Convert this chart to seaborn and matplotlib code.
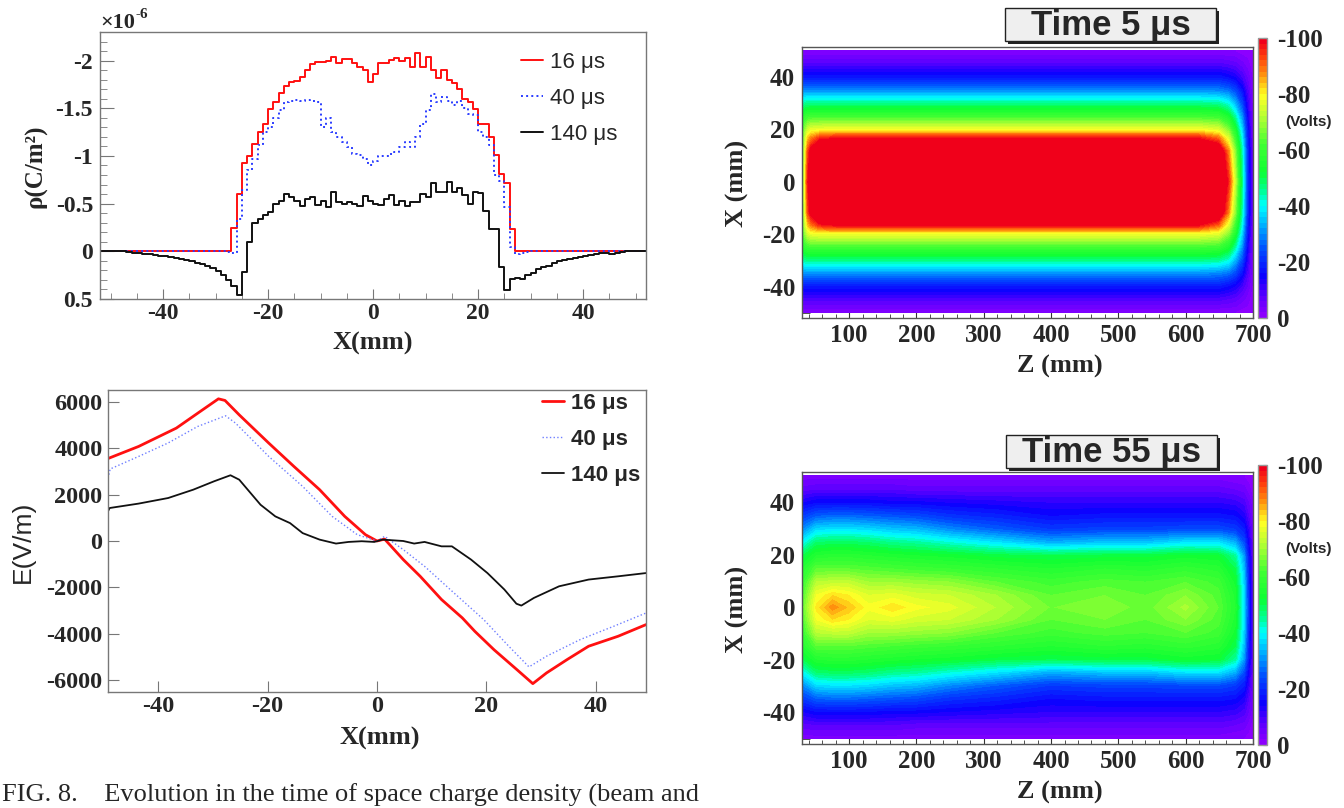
import numpy as np
import matplotlib
matplotlib.use("Agg")
import matplotlib.pyplot as plt
import seaborn as sns
from matplotlib.colors import LinearSegmentedColormap, Normalize
from matplotlib.cm import ScalarMappable
from matplotlib.ticker import MultipleLocator, FormatStrFormatter
from matplotlib.patches import Rectangle

W, H = 1344, 808
SERIF = ["Liberation Serif", "DejaVu Serif"]
SANS = ["Liberation Sans", "DejaVu Sans"]

# =========================
# DATA
# =========================
# space charge density, 1 mm bins from -52 to 52 mm, in units of 1e-6 C/m^2
rho_edges = np.arange(-52, 53)
rho_16us = [0.0] * 25 + [
    -0.24, -0.60, -0.93, -1.00, -1.13, -1.25, -1.34, -1.49, -1.57, -1.66,
    -1.73, -1.78, -1.79, -1.83, -1.90, -1.96, -1.99, -1.99, -2.00, -2.04,
    -1.97, -2.02, -2.02, -1.97, -1.93, -1.90, -1.78,
    -1.86, -1.97, -1.98, -2.01, -2.03, -2.00, -2.03, -1.93, -2.08, -1.93,
    -2.04, -1.90, -1.82, -1.90, -1.80, -1.76, -1.70, -1.60, -1.57, -1.49,
    -1.33, -1.34, -1.20, -1.01, -0.81, -0.72, -0.23] + [0.0] * 25
rho_40us = [0.0] * 24 + [0.01, 0.02] + [
    -0.34, -0.64, -0.85, -0.97, -1.11, -1.25, -1.30, -1.40, -1.48,
    -1.57, -1.58, -1.59, -1.58, -1.59, -1.58, -1.57,
    -1.30, -1.40, -1.25, -1.20, -1.15, -1.09, -1.02, -1.01, -0.97, -0.90,
    -0.95, -1.00, -1.00, -1.02, -1.04, -1.09, -1.15, -1.09, -1.20, -1.33,
    -1.48, -1.65, -1.57, -1.62, -1.58, -1.53, -1.58, -1.50, -1.44, -1.43,
    -1.25, -1.20, -1.11, -0.80, -0.74, -0.47, -0.05] + [0.03, 0.02, 0.01] + [0.0] * 22
rho_140us = [0.0] * 5 + [
    0.01, 0.02, 0.02, 0.03, 0.03, 0.04, 0.05, 0.05, 0.06, 0.07, 0.08, 0.09,
    0.10, 0.12, 0.13, 0.15, 0.18, 0.21, 0.25, 0.30, 0.36, 0.46, 0.22] + [
    -0.10, -0.30, -0.34, -0.38, -0.41, -0.50, -0.53, -0.60, -0.57, -0.53,
    -0.48, -0.55, -0.57, -0.49, -0.53, -0.47, -0.62, -0.52, -0.50, -0.52,
    -0.50, -0.48, -0.58, -0.53, -0.50, -0.49, -0.55, -0.59, -0.49, -0.53,
    -0.48, -0.52, -0.52, -0.60, -0.57, -0.72, -0.62, -0.62, -0.73, -0.62,
    -0.66, -0.59, -0.50, -0.62, -0.61, -0.42, -0.23, -0.23, 0.16, 0.41,
    0.29, 0.28, 0.29, 0.25, 0.23, 0.19, 0.16, 0.15, 0.12, 0.10,
    0.09, 0.08, 0.07, 0.06, 0.05, 0.04, 0.03, 0.02, 0.02, 0.03,
    0.02, 0.01, 0.0, 0.0, 0.0, 0.0]

# electric field E(V/m) vs X(mm)
e_x_16 = [-49.2, -43.6, -36.7, -32.8, -29.0, -27.8, -25.2, -19.8, -15.2, -10.5, -5.9, -2.1,
          0.0, 1.4, 4.8, 7.9, 11.8, 15.6, 17.9, 21.4, 25.6, 28.5, 31.0, 34.8, 38.7, 44.1, 49.2]
e_16 = [3550, 4070, 4860, 5500, 6120, 6050, 5430, 4215, 3210, 2210, 1060, 270,
        0, 80, -800, -1520, -2520, -3310, -3890, -4680, -5540, -6140, -5680, -5100, -4530, -4100, -3600]
e_x_40 = [-49.2, -48.8, -43.6, -38.2, -32.8, -27.7, -25.9, -19.8, -13.6, -8.2, -3.6, 0.0,
          1.4, 4.8, 8.7, 14.1, 19.5, 24.1, 27.8, 31.0, 37.2, 43.3, 49.2]
e_40 = [2700, 3100, 3640, 4220, 4930, 5390, 5080, 3640, 2350, 1060, 270, 0,
        200, -370, -1090, -2240, -3380, -4530, -5420, -4960, -4240, -3670, -3100]
e_x_140 = [-49.2, -48.9, -43.6, -38.2, -33.6, -29.8, -26.8, -25.2, -21.3, -18.6, -15.9, -13.6,
           -10.5, -7.5, -5.2, -2.8, -0.5, 1.0, 4.8, 6.8, 8.7, 11.8, 13.7, 17.2, 20.2, 23.3,
           25.5, 26.4, 28.7, 33.3, 38.7, 44.1, 49.2]
e_140 = [1280, 1420, 1610, 1850, 2210, 2570, 2830, 2640, 1560, 1060, 770, 340,
         60, -110, -40, -10, -40, 60, 0, -110, -40, -230, -230, -800, -1380, -2090,
         -2700, -2780, -2450, -1950, -1660, -1520, -1380]

# potential maps (Volts): one list of X values per Z node
x_nodes_5 = [-50, -45, -40, -35, -30, -25, -20, -17, -12, 0, 12, 17, 20, 25, 30, 35, 40, 45, 50]
z_nodes_5 = [30, 33, 37, 42, 55, 80, 400, 620, 650, 665, 675, 685, 693, 700]
pot_5us = [
    [-2, -9, -17, -30, -44, -55, -62, -64, -66, -67, -66, -64, -62, -55, -44, -30, -17, -9, -2],
    [-2, -9, -18, -31, -46, -59, -69, -73, -77, -80, -77, -73, -69, -59, -46, -31, -18, -9, -2],
    [-2, -9, -18, -31, -47, -61, -75, -83, -92, -97, -92, -83, -75, -61, -47, -31, -18, -9, -2],
    [-2, -9, -18, -31, -47, -62, -78, -88, -102, -112, -102, -88, -78, -62, -47, -31, -18, -9, -2],
    [-2, -9, -18, -31, -47, -62, -79, -95, -120, -128, -120, -95, -79, -62, -47, -31, -18, -9, -2],
    [-2, -9, -18, -31, -47, -62, -79, -98, -125, -135, -125, -98, -80, -62, -47, -31, -18, -9, -2],
    [-2, -9, -18, -31, -47, -62, -79, -98, -125, -135, -125, -98, -80, -62, -47, -31, -18, -9, -2],
    [-2, -9, -18, -31, -47, -62, -79, -98, -125, -135, -125, -98, -80, -62, -47, -31, -18, -9, -2],
    [-2, -9, -18, -30, -46, -61, -77, -90, -110, -120, -110, -90, -77, -61, -46, -30, -18, -9, -2],
    [-2, -8, -16, -28, -42, -55, -68, -76, -88, -96, -88, -76, -68, -55, -42, -28, -16, -8, -2],
    [-2, -7, -14, -24, -34, -45, -55, -60, -68, -74, -68, -60, -55, -45, -34, -24, -14, -7, -2],
    [-1, -5, -10, -17, -24, -31, -37, -40, -44, -47, -44, -40, -37, -31, -24, -17, -10, -5, -1],
    [-1, -3, -6, -9, -12, -15, -18, -19, -21, -22, -21, -19, -18, -15, -12, -9, -6, -3, -1],
    [0, -1, -2, -3, -4, -4, -5, -5, -6, -6, -6, -5, -5, -4, -4, -3, -2, -1, 0],
]

x_nodes_55 = [-50, -45, -40, -35, -30, -25, -20, -15, -10, -5, 0, 5, 10, 15, 20, 25, 30, 35, 40, 45, 50]
z_nodes_55 = [30, 50, 75, 100, 130, 165, 200, 250, 320, 400, 480, 540, 600, 650, 675, 688, 695, 700]
pot_55us = [
    [-3, -7, -14, -22, -30, -40, -50, -56, -60, -63, -65, -63, -60, -56, -50, -40, -30, -22, -14, -7, -3],
    [-3, -8, -16, -26, -37, -48, -56, -64, -72, -78, -81, -78, -72, -64, -56, -48, -37, -26, -16, -8, -3],
    [-3, -8, -16, -27, -38, -49, -57, -64, -73, -82, -88, -82, -73, -64, -57, -49, -38, -27, -16, -8, -3],
    [-3, -8, -16, -27, -38, -49, -57, -64, -73, -80, -84, -80, -73, -64, -57, -49, -38, -27, -16, -8, -3],
    [-3, -8, -16, -26, -37, -48, -56, -63, -70, -76, -79, -76, -70, -63, -56, -48, -37, -26, -16, -8, -3],
    [-3, -8, -15, -25, -35, -46, -55, -62, -70, -77, -82, -77, -70, -62, -55, -46, -35, -25, -15, -8, -3],
    [-3, -7, -15, -24, -34, -45, -54, -61, -69, -75, -79, -75, -69, -61, -54, -45, -34, -24, -15, -7, -3],
    [-3, -7, -14, -21, -30, -42, -53, -60, -68, -74, -77, -74, -68, -60, -53, -42, -30, -21, -14, -7, -3],
    [-3, -7, -13, -19, -26, -38, -51, -58, -64, -70, -72, -70, -64, -58, -51, -38, -26, -19, -13, -7, -3],
    [-3, -7, -12, -16, -22, -33, -50, -56, -61, -64, -66, -64, -61, -56, -50, -33, -22, -16, -12, -7, -3],
    [-3, -7, -12, -17, -23, -35, -51, -58, -63, -66, -68, -66, -63, -58, -51, -35, -23, -17, -12, -7, -3],
    [-3, -7, -12, -17, -23, -35, -51, -57, -62, -64, -65, -64, -62, -57, -51, -35, -23, -17, -12, -7, -3],
    [-3, -7, -12, -17, -24, -38, -53, -59, -64, -68, -71, -68, -64, -59, -53, -38, -24, -17, -12, -7, -3],
    [-3, -7, -12, -17, -24, -38, -52, -57, -61, -63, -64, -63, -61, -57, -52, -38, -24, -17, -12, -7, -3],
    [-2, -6, -11, -16, -22, -33, -45, -50, -53, -55, -56, -55, -53, -50, -45, -33, -22, -16, -11, -6, -2],
    [-2, -5, -9, -13, -18, -24, -31, -34, -36, -37, -38, -37, -36, -34, -31, -24, -18, -13, -9, -5, -2],
    [-1, -3, -6, -8, -11, -14, -17, -18, -19, -20, -20, -20, -19, -18, -17, -14, -11, -8, -6, -3, -1],
    [0, -1, -3, -4, -5, -6, -7, -7, -8, -8, -8, -8, -8, -7, -7, -6, -5, -4, -3, -1, 0],
]

# =========================
# STYLE
# =========================
sns.set_style("ticks")
plt.rcParams["font.family"] = SERIF
plt.rcParams["font.weight"] = "bold"
plt.rcParams["axes.labelweight"] = "bold"
plt.rcParams["axes.unicode_minus"] = False
plt.rcParams["axes.linewidth"] = 1.0

# ROOT-like rainbow palette, -100 V red ... 0 V violet
root_colors = [
    (0.00, (0.94, 0.00, 0.10)), (0.06, (1.00, 0.25, 0.05)), (0.12, (1.00, 0.55, 0.05)),
    (0.17, (1.00, 0.85, 0.10)), (0.20, (1.00, 1.00, 0.15)), (0.28, (0.70, 1.00, 0.20)),
    (0.38, (0.25, 1.00, 0.20)), (0.48, (0.05, 1.00, 0.20)), (0.55, (0.00, 1.00, 0.60)),
    (0.60, (0.00, 1.00, 1.00)), (0.67, (0.00, 0.70, 1.00)), (0.76, (0.00, 0.30, 1.00)),
    (0.86, (0.05, 0.00, 1.00)), (0.93, (0.35, 0.00, 1.00)), (1.00, (0.55, 0.00, 1.00)),
]
cmap = LinearSegmentedColormap.from_list("root", root_colors).resampled(50)
cmap.set_under((0.94, 0.0, 0.10))
norm = Normalize(vmin=-100, vmax=0)

fig = plt.figure(figsize=(13.44, 8.08), dpi=100)


def px_axes(l, t, r, b):
    return fig.add_axes([l / W, 1 - b / H, (r - l) / W, (b - t) / H])


def px_label(ax, axis, text, cx, cy, **kw):
    # place an axis label centred at a pixel position of the figure
    inv = ax.transAxes.inverted()
    xa, ya = inv.transform(fig.transFigure.transform((cx / W, 1 - cy / H)))
    if axis == "x":
        ax.set_xlabel(text, va="center", ha="center", **kw)
        ax.xaxis.set_label_coords(xa, ya)
    else:
        ax.set_ylabel(text, va="center", ha="center", **kw)
        ax.yaxis.set_label_coords(xa, ya)


# =========================
# 1. CHARGE DENSITY
# =========================
ax1 = px_axes(100, 32, 646, 299)
for vals, col, ls, lab in [(rho_16us, "#ff1010", "-", "16 μs"),
                           (rho_40us, "#2a3cff", ":", "40 μs"),
                           (rho_140us, "#111111", "-", "140 μs")]:
    sns.lineplot(x=rho_edges, y=list(vals) + [vals[-1]], ax=ax1, color=col, linestyle=ls,
                 linewidth=1.4, drawstyle="steps-post", estimator=None, sort=False, label=lab)
ax1.set_xlim(-52, 52)
ax1.set_ylim(0.5, -2.3)
ax1.xaxis.set_major_locator(MultipleLocator(20))
ax1.xaxis.set_minor_locator(MultipleLocator(5))
ax1.yaxis.set_major_locator(MultipleLocator(0.5))
ax1.yaxis.set_minor_locator(MultipleLocator(0.1))
ax1.yaxis.set_major_formatter(FormatStrFormatter("%g"))
ax1.tick_params(which="both", direction="in", color="#777777", labelsize=17)
ax1.tick_params(axis="y", which="major", length=10, pad=5)
ax1.tick_params(axis="y", which="minor", length=5)
ax1.tick_params(axis="x", which="major", length=7, pad=3)
ax1.tick_params(axis="x", which="minor", length=4)
for s in ax1.spines.values():
    s.set_color("#777777")
px_label(ax1, "x", "X(mm)", 373, 343, fontsize=19)
px_label(ax1, "y", "ρ(C/m²)", 36, 166, fontsize=18)
ax1.legend(loc="upper left", bbox_to_anchor=((521 - 100) / 546, 1 - (52 - 32) / 267),
           frameon=False, borderpad=0, borderaxespad=0, handlelength=1.0, handletextpad=0.3,
           labelspacing=0.67, prop={"family": SANS, "size": 16, "weight": "normal"})
fig.text(100 / W, 1 - 28 / H, "×10", fontsize=16, ha="left", va="baseline")
fig.text(135 / W, 1 - 18 / H, "-6", fontsize=11, ha="left", va="baseline")

# =========================
# 2. ELECTRIC FIELD
# =========================
ax2 = px_axes(108, 390, 646, 692)
sns.lineplot(x=e_x_16, y=e_16, ax=ax2, color="#ff1010", linewidth=2.0,
             estimator=None, sort=False, label="16 μs")
sns.lineplot(x=e_x_40, y=e_40, ax=ax2, color="#6f7fff", linewidth=1.0, linestyle=":",
             estimator=None, sort=False, label="40 μs")
sns.lineplot(x=e_x_140, y=e_140, ax=ax2, color="#111111", linewidth=1.3,
             estimator=None, sort=False, label="140 μs")
ax2.set_xlim(-49.2, 49.2)
ax2.set_ylim(-6500, 6500)
ax2.xaxis.set_major_locator(MultipleLocator(20))
ax2.yaxis.set_major_locator(MultipleLocator(2000))
ax2.tick_params(direction="in", length=8, color="#777777", labelsize=17.5)
ax2.tick_params(axis="y", pad=4)
ax2.tick_params(axis="x", pad=3)
for s in ax2.spines.values():
    s.set_color("#777777")
px_label(ax2, "x", "X(mm)", 380, 738, fontsize=19)
px_label(ax2, "y", "E(V/m)", 23, 542, fontsize=19, family=SANS, fontweight="normal")
ax2.legend(loc="upper left", bbox_to_anchor=((542 - 108) / 538, 1 - (393 - 390) / 302),
           frameon=False, borderpad=0, borderaxespad=0, handlelength=1.0, handletextpad=0.3,
           labelspacing=0.67, prop={"family": SANS, "size": 16, "weight": "bold"})

# =========================
# 3. POTENTIAL MAPS
# =========================
levels = np.linspace(-100, 0, 51)


def field_panel(top, bottom, cb_top, cb_bottom, z, x, cols, title, box):
    ax = px_axes(802, top, 1253, bottom)
    grid = np.array(cols, dtype=float).T
    ax.contourf(z, x, grid, levels=levels, cmap=cmap, norm=norm, extend="min")
    ax.set_xlim(30, 700)
    ax.set_ylim(-52, 51.5)
    ax.xaxis.set_major_locator(MultipleLocator(100))
    ax.xaxis.set_minor_locator(MultipleLocator(20))
    ax.yaxis.set_major_locator(MultipleLocator(20))
    ax.yaxis.set_minor_locator(MultipleLocator(5))
    ax.tick_params(which="both", direction="in", color="#333333", labelsize=18)
    ax.tick_params(axis="y", which="major", length=12, pad=5)
    ax.tick_params(axis="y", which="minor", length=6)
    ax.tick_params(axis="x", which="major", length=5, pad=4)
    ax.tick_params(axis="x", which="minor", length=3)
    for s in ax.spines.values():
        s.set_color("#555555")
    px_label(ax, "x", "Z (mm)", 1060, bottom + 48, fontsize=19)
    px_label(ax, "y", "X (mm)", 737, (top + bottom) / 2 + 1, fontsize=19)

    cax = px_axes(1258, cb_top, 1267, cb_bottom)
    cb = fig.colorbar(ScalarMappable(norm=norm, cmap=cmap), cax=cax)
    cb.outline.set_edgecolor("#999999")
    cb.set_ticks([-100, -80, -60, -40, -20, 0])
    cax.invert_yaxis()
    cax.tick_params(direction="in", length=3, color="#777777", labelsize=18, pad=7)
    fig.text(1308 / W, 1 - ((cb_top + 84) / H), "(Volts)", family=SANS, fontsize=11,
             fontweight="bold", ha="center", va="center")

    l, t, r, b = box
    fig.patches.append(Rectangle((l / W + 3 / W, 1 - (b + 3) / H), (r - l) / W, (b - t) / H,
                                 transform=fig.transFigure, facecolor="#222222",
                                 edgecolor="none", zorder=5))
    fig.patches.append(Rectangle((l / W, 1 - b / H), (r - l) / W, (b - t) / H,
                                 transform=fig.transFigure, facecolor="#efefef",
                                 edgecolor="#222222", linewidth=1.0, zorder=6))
    fig.text((l + r) / 2 / W, 1 - ((t + b) / 2 + 1) / H, title, family=SANS, fontsize=25,
             fontweight="bold", ha="center", va="center", zorder=7)
    return ax


field_panel(47, 318, 38, 318, z_nodes_5, x_nodes_5, pot_5us, "Time 5 μs", (1005, 8, 1216, 41))
field_panel(472, 744, 465, 745, z_nodes_55, x_nodes_55, pot_55us, "Time 55 μs", (1006, 435, 1217, 468))

# =========================
# 4. CAPTION
# =========================
fig.text(2 / W, 1 - 795 / H, "FIG. 8.    Evolution in the time of space charge density (beam and",
         family=SERIF, fontweight="normal", fontsize=19, ha="left", va="center")

fig.savefig("out.png", dpi=100)
